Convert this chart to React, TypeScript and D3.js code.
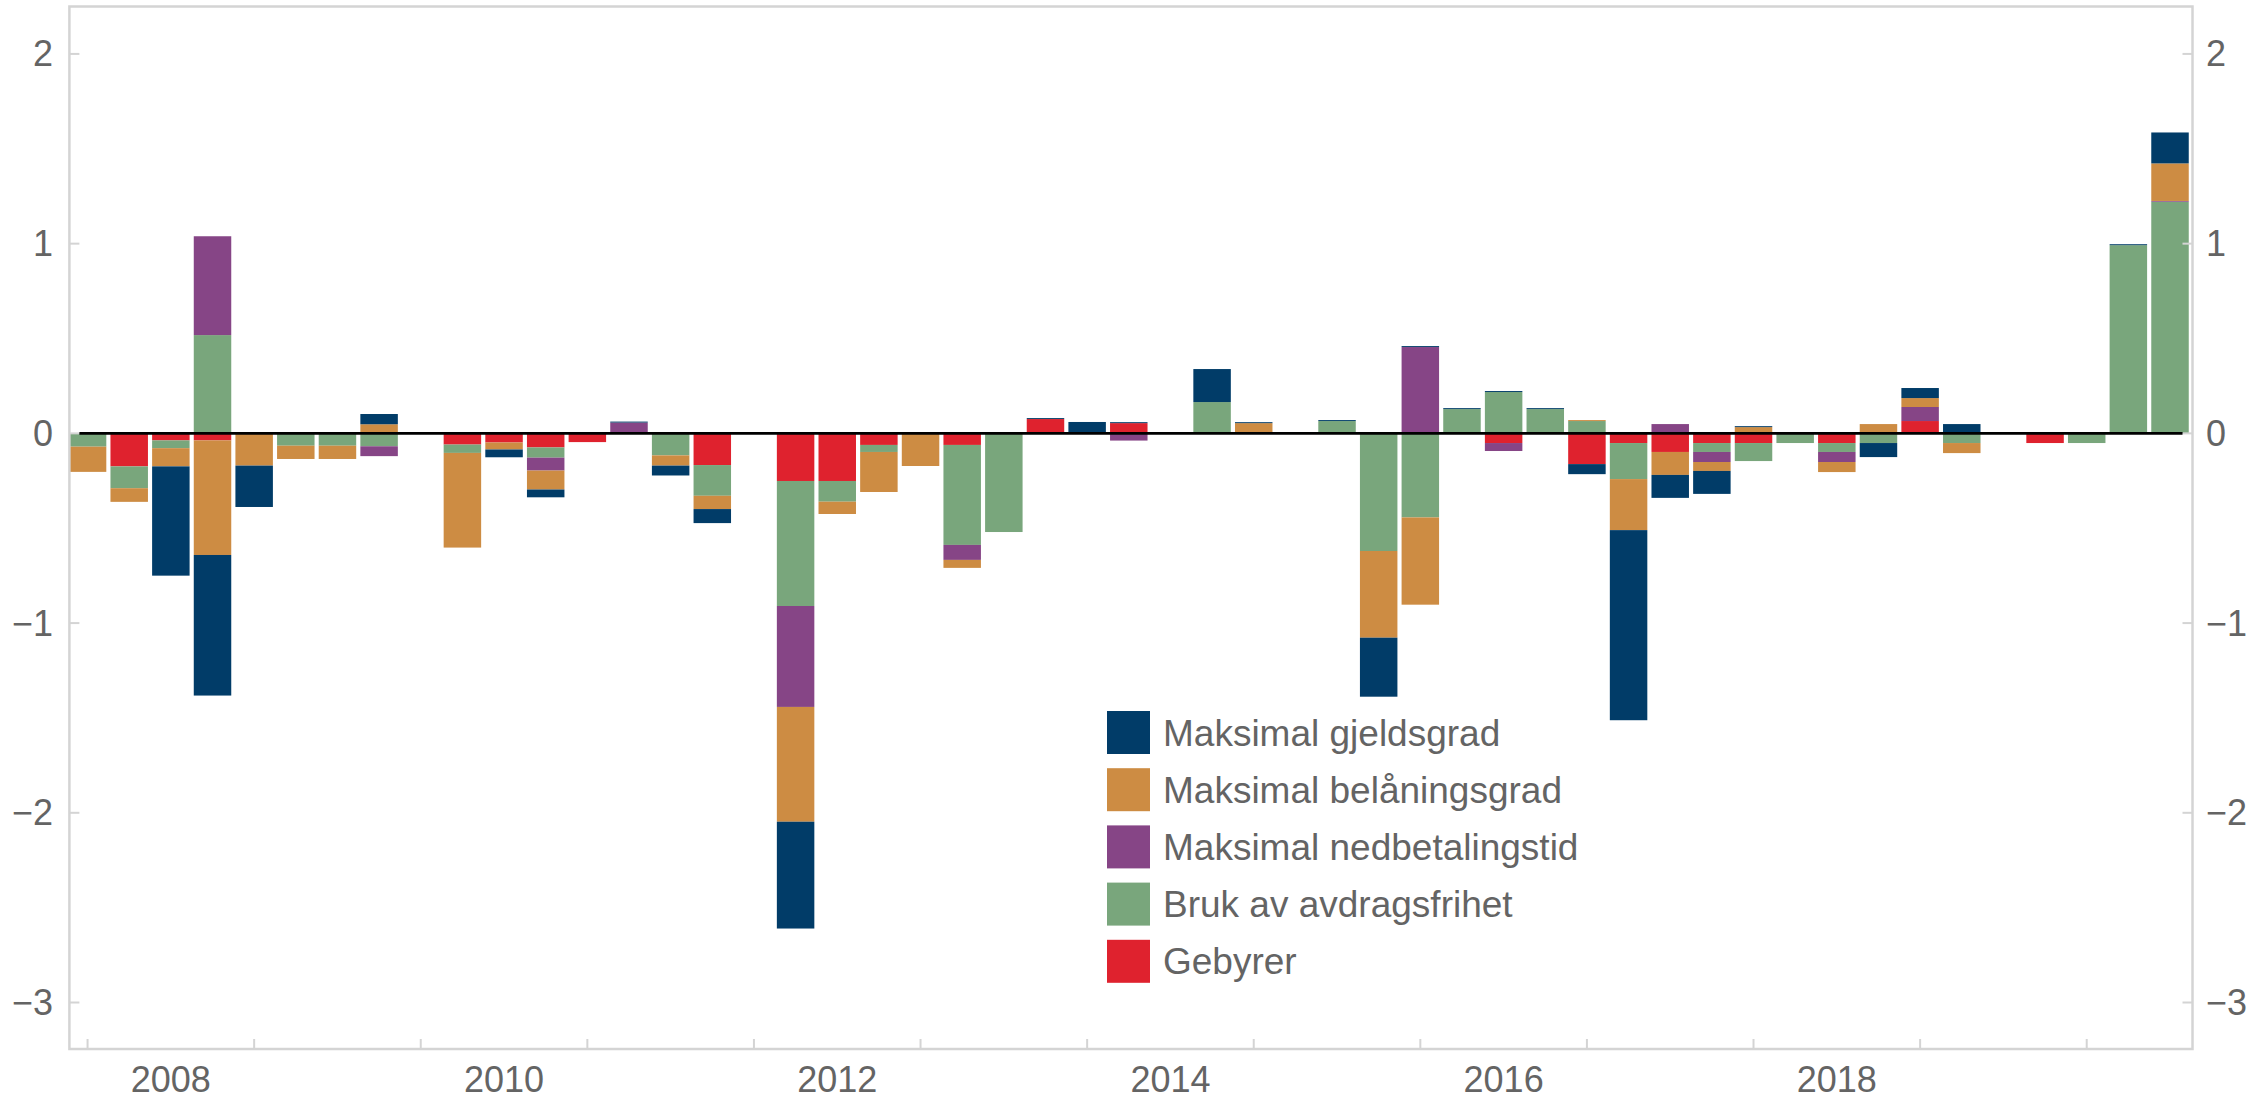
import React from "react";
import * as d3 from "d3";

// Quarter categories (bar placed at end of quarter)
const quarters = [
  "2007Q4",
  "2008Q1", "2008Q2", "2008Q3", "2008Q4",
  "2009Q1", "2009Q2", "2009Q3", "2009Q4",
  "2010Q1", "2010Q2", "2010Q3", "2010Q4",
  "2011Q1", "2011Q2", "2011Q3", "2011Q4",
  "2012Q1", "2012Q2", "2012Q3", "2012Q4",
  "2013Q1", "2013Q2", "2013Q3", "2013Q4",
  "2014Q1", "2014Q2", "2014Q3", "2014Q4",
  "2015Q1", "2015Q2", "2015Q3", "2015Q4",
  "2016Q1", "2016Q2", "2016Q3", "2016Q4",
  "2017Q1", "2017Q2", "2017Q3", "2017Q4",
  "2018Q1", "2018Q2", "2018Q3", "2018Q4",
  "2019Q1", "2019Q2", "2019Q3", "2019Q4",
  "2020Q1", "2020Q2",
];

const seriesNames = [
  "Maksimal gjeldsgrad",
  "Maksimal belåningsgrad",
  "Maksimal nedbetalingstid",
  "Bruk av avdragsfrihet",
  "Gebyrer",
];
const seriesColors = ["#013c68", "#cd8c43", "#864586", "#79a67c", "#df222e"];

const gjeldsgrad = [
  0, 0, -0.576, -0.741, -0.218, 0, 0, 0.054, 0, 0, -0.041, -0.041, 0,
  0.005, -0.052, -0.074, 0, -0.563, 0, 0, 0, 0, 0, 0.005, 0.06, 0.005,
  0, 0.174, 0.005, 0, 0.005, -0.311, 0.005, 0.005, 0.005, 0.005, -0.053,
  -1.002, -0.121, -0.121, 0.005, 0, 0, -0.074, 0.053, 0.049, 0, 0, 0,
  0.005, 0.163,
];
const belaningsgrad = [
  -0.133, -0.072, -0.096, -0.604, -0.17, -0.07, -0.07, 0.048, 0, -0.499,
  -0.037, -0.1, 0, 0, -0.054, -0.07, 0, -0.605, -0.065, -0.211, -0.172,
  -0.042, 0, 0, 0, 0, 0, 0, 0.054, 0, 0, -0.457, -0.46, 0, 0, 0, 0.005,
  -0.269, -0.121, -0.047, 0.033, 0, -0.053, 0.049, 0.047, -0.053, 0, 0, 0,
  0, 0.198,
];
const nedbetalingstid = [
  0, 0, 0, 0.521, 0, 0, 0, -0.052, 0, 0, 0, -0.068, 0, 0.057, 0, 0, 0,
  -0.532, 0, 0, 0, -0.079, 0, 0, 0, -0.038, 0, 0, 0, 0, 0, 0, 0.455, 0,
  -0.042, 0, 0, 0, 0.049, -0.053, 0, 0, -0.053, 0, 0.074, 0, 0, 0, 0, 0,
  0.004,
];
const avdragsfrihet = [
  -0.07, -0.115, -0.041, 0.518, 0, -0.065, -0.065, -0.068, 0, -0.044, 0,
  -0.054, 0, 0, -0.116, -0.162, 0, -0.659, -0.109, -0.037, 0, -0.527,
  -0.52, 0, 0, 0, 0, 0.165, 0, 0, 0.065, -0.62, -0.443, 0.128, 0.218,
  0.128, 0.065, -0.19, 0, -0.047, -0.095, -0.051, -0.047, -0.051, 0,
  -0.051, 0, 0, -0.051, 0.992, 1.221,
];
const gebyrer = [
  0, -0.174, -0.037, -0.037, 0, 0, 0, 0, 0, -0.059, -0.048, -0.074,
  -0.046, 0, 0, -0.167, 0, -0.251, -0.251, -0.061, 0, -0.061, 0, 0.0755,
  0, 0.054, 0, 0, 0, 0, 0, 0, 0, 0, -0.051, 0, -0.162, -0.051, -0.098,
  -0.051, -0.051, 0, -0.051, 0, 0.065, 0, 0, -0.051, 0, 0, 0,
];

const yTicks = [-3, -2, -1, 0, 1, 2];
const xTickYears = [2008, 2009, 2010, 2011, 2012, 2013, 2014, 2015, 2016, 2017, 2018, 2019, 2020];
const xLabelYears = [2008, 2010, 2012, 2014, 2016, 2018];

const W = 2253;
const H = 1100;
const L = 69.4;
const R = 2192.5;
const T = 6.5;
const B = 1049;

const FONT = "'Liberation Sans', Arial, Helvetica, sans-serif";
const TEXT = "#646464";
const AXIS = "#d4d4d4";

function quarterTime(q: string) {
  const y = +q.slice(0, 4);
  const n = +q.slice(5);
  return y + n / 4;
}

export default function App() {
  const x = d3.scaleLinear().domain([2007.891, 2020.635]).range([L, R]);
  const y = d3.scaleLinear().domain([-3.245, 2.25]).range([B, T]);
  const fmt = d3.format("d");

  const valuesBySeries = [gjeldsgrad, belaningsgrad, nedbetalingstid, avdragsfrihet, gebyrer];
  const rows = quarters.map((q, i) => {
    const r: any = { q };
    seriesNames.forEach((s, k) => (r[s] = valuesBySeries[k][i]));
    return r;
  });
  // Stack from zero outward: Gebyrer closest to zero, gjeldsgrad outermost
  const keys = [...seriesNames].reverse();
  const stacked = d3
    .stack()
    .keys(keys)
    .offset(d3.stackOffsetDiverging)(rows);

  const qw = x(2008.25) - x(2008);
  const bw = qw * 0.9;

  return (
    <svg
      width={W}
      height={H}
      style={{ position: "absolute", left: 0, top: 0, background: "#fff" }}
      fontFamily={FONT}
    >
      <defs>
        <clipPath id="plot">
          <rect x={L} y={T} width={R - L} height={B - T} />
        </clipPath>
      </defs>
      <rect x={0} y={0} width={W} height={H} fill="#fff" />

      {/* bars */}
      <g clipPath="url(#plot)">
        {stacked.map((layer) => {
          const k = seriesNames.indexOf(layer.key as string);
          return (
            <g key={layer.key as string} fill={seriesColors[k]}>
              {layer.map((d: any, i: number) => {
                const y0 = y(d[0]);
                const y1 = y(d[1]);
                const h = Math.abs(y0 - y1);
                if (h < 0.01) return null;
                const cx = x(quarterTime(quarters[i]));
                return (
                  <rect
                    key={i}
                    x={cx - bw / 2}
                    y={Math.min(y0, y1)}
                    width={bw}
                    height={h}
                  />
                );
              })}
            </g>
          );
        })}
      </g>

      {/* frame */}
      <rect x={L} y={T} width={R - L} height={B - T} fill="none" stroke={AXIS} strokeWidth={2.5} />

      {/* y ticks */}
      {yTicks.map((t) => (
        <g key={t}>
          <line x1={L} x2={L + 10} y1={y(t)} y2={y(t)} stroke={AXIS} strokeWidth={2} />
          <line x1={R - 10} x2={R} y1={y(t)} y2={y(t)} stroke={AXIS} strokeWidth={2} />
          <text
            x={53}
            y={y(t)}
            textAnchor="end"
            dominantBaseline="central"
            fontSize={36}
            fill={TEXT}
          >
            {d3.format("")(t).replace("-", "\u2212")}
          </text>
          <text
            x={2206}
            y={y(t)}
            textAnchor="start"
            dominantBaseline="central"
            fontSize={36}
            fill={TEXT}
          >
            {d3.format("")(t).replace("-", "\u2212")}
          </text>
        </g>
      ))}

      {/* x ticks */}
      {xTickYears.map((yr) => (
        <line key={yr} x1={x(yr)} x2={x(yr)} y1={B} y2={B - 10} stroke={AXIS} strokeWidth={2} />
      ))}
      {xLabelYears.map((yr) => (
        <text key={yr} x={x(yr + 0.5)} y={1092} textAnchor="middle" fontSize={36} fill={TEXT}>
          {fmt(yr)}
        </text>
      ))}

      {/* zero line */}
      <line x1={L + 10} x2={R - 10} y1={y(0)} y2={y(0)} stroke="#000" strokeWidth={2.7} />

      {/* legend */}
      {seriesNames.map((s, k) => (
        <g key={s} transform={`translate(1107, ${711 + k * 57.2})`}>
          <rect x={0} y={0} width={43} height={43} fill={seriesColors[k]} />
          <text x={56} y={34.7} fontSize={37} fill={TEXT}>
            {s}
          </text>
        </g>
      ))}
    </svg>
  );
}
